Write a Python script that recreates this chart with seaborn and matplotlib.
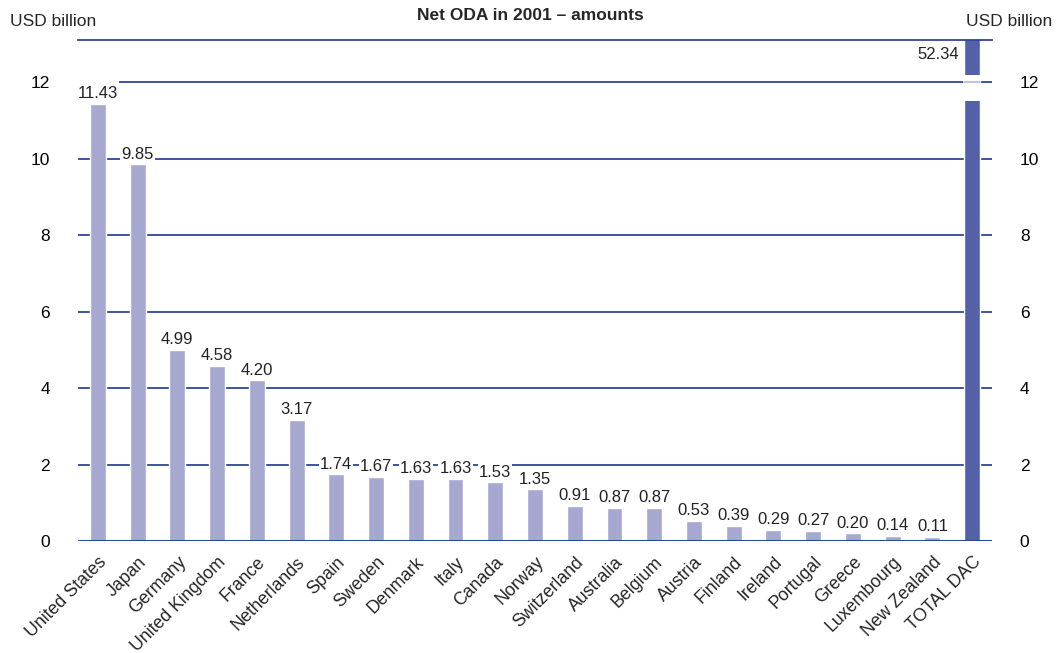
import matplotlib
matplotlib.use("Agg")
import matplotlib.pyplot as plt
import seaborn as sns
import pandas as pd
from matplotlib.patches import Rectangle
from matplotlib.path import Path

countries = ["United States", "Japan", "Germany", "United Kingdom", "France", "Netherlands",
             "Spain", "Sweden", "Denmark", "Italy", "Canada", "Norway", "Switzerland",
             "Australia", "Belgium", "Austria", "Finland", "Ireland", "Portugal", "Greece",
             "Luxembourg", "New Zealand", "TOTAL DAC"]
values = [11.43, 9.85, 4.99, 4.58, 4.20, 3.17, 1.74, 1.67, 1.63, 1.63, 1.53, 1.35, 0.91,
          0.87, 0.87, 0.53, 0.39, 0.29, 0.27, 0.20, 0.14, 0.11, 52.34]
yticks = [0, 2, 4, 6, 8, 10, 12]

LIGHT = "#a6a8d0"
DARK = "#5461a6"
NAVY = "#2f4597"

sns.set_theme(style="white")
plt.rcParams["font.family"] = ["Liberation Sans", "DejaVu Sans"]


def tight_box(x0, y0, width, height, mutation_size):
    hp, vp = 1.0, 6.0
    xa, xb = x0 - hp, x0 + width + hp
    ya, yb = y0 - 1.0, y0 + height + vp
    return Path([(xa, ya), (xb, ya), (xb, yb), (xa, yb), (xa, ya)], closed=True)


df = pd.DataFrame({"country": countries, "value": values})
colors = [DARK if c == "TOTAL DAC" else LIGHT for c in countries]

fig = plt.figure(figsize=(10.6, 6.53), dpi=100)
ax = fig.add_axes([78 / 1060, 1 - 541 / 653, (992 - 78) / 1060, (541 - 40) / 653])

sns.barplot(data=df, x="country", y="value", hue="country", palette=colors,
            legend=False, width=0.4, saturation=1, ax=ax, zorder=2)

ax.set_ylim(0, 13.1)
ax.set_xlim(-0.5, len(countries) - 0.5)
ax.set_yticks(yticks)
ax.set_yticklabels([str(t) for t in yticks])
for t in yticks[1:]:
    ax.axhline(t, color=NAVY, lw=1.3, zorder=0.5)
ax.axhline(0, color=NAVY, lw=2.2, zorder=4)

for s in ["left", "right", "bottom"]:
    ax.spines[s].set_visible(False)
ax.spines["top"].set_color(NAVY)
ax.spines["top"].set_linewidth(1.3)

ax.tick_params(axis="y", left=False, right=False, labelleft=True, labelright=True,
               labelsize=12.5, pad=14, labelcolor="black")
ax.tick_params(axis="x", bottom=False, length=0, labelsize=12.8, pad=9)
for lab in ax.get_xticklabels():
    lab.set_rotation(45)
    lab.set_ha("right")
    lab.set_va("top")
    lab.set_rotation_mode("anchor")
ax.set_xlabel("")
ax.set_ylabel("")

# value labels
for i, (c, v) in enumerate(zip(countries, values)):
    if c == "TOTAL DAC":
        continue
    ax.annotate(f"{v:.2f}", (i, v), xytext=(0, 2), textcoords="offset points",
                ha="center", va="bottom", fontsize=12, color="#222222",
                bbox=dict(boxstyle=tight_box, fc="white", ec="none"), zorder=5)

# broken bar for TOTAL DAC
bar = ax.patches[len(countries) - 1]
bx, bw = bar.get_x(), bar.get_width()
ax.add_patch(Rectangle((bx - 0.02, 11.5), bw + 0.04, 0.68, fc="white", ec="none", zorder=3))
x0, x1 = ax.get_xlim()
ax.axhline(12, xmin=(bx - x0) / (x1 - x0), xmax=(bx + bw - x0) / (x1 - x0),
           color="#b8c0e0", lw=1.3, zorder=3.5)
ax.annotate(f"{values[-1]:.2f}", (bx, 12.73), xytext=(-4, 0), textcoords="offset points",
            ha="right", va="center", fontsize=12, color="#222222", zorder=5)

fig.text(0.5, 1 - 15 / 653, "Net ODA in 2001 \u2013 amounts", ha="center", va="center",
         fontsize=12.5, fontweight="bold")
fig.text(10 / 1060, 1 - 22 / 653, "USD billion", ha="left", va="center", fontsize=12.5)
fig.text(966 / 1060, 1 - 22 / 653, "USD billion", ha="left", va="center", fontsize=12.5)

fig.savefig("out.png", dpi=100)
